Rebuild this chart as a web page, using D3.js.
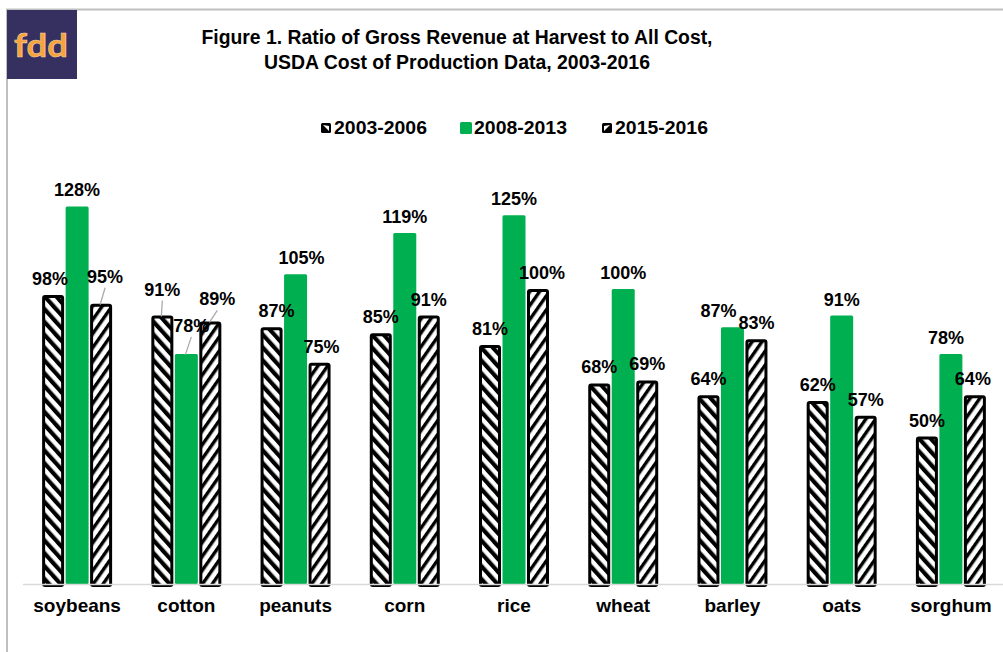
<!DOCTYPE html>
<html><head><meta charset="utf-8">
<script src="https://cdn.jsdelivr.net/npm/d3@7"></script>
<style>
html,body{margin:0;padding:0;background:#fff;}
svg{display:block;font-family:"Liberation Sans",Arial,sans-serif;}
</style></head>
<body>
<svg id="chart" width="1003" height="652"></svg>
<script>
const categories = ["soybeans","cotton","peanuts","corn","rice","wheat","barley","oats","sorghum"];
const seriesNames = ["2003-2006","2008-2013","2015-2016"];
const values2003_2006 = [98,91,87,85,81,68,64,62,50];
const values2008_2013 = [128,78,105,119,125,100,87,91,78];
const values2015_2016 = [95,89,75,91,100,69,83,57,64];
const seriesValues = [values2003_2006, values2008_2013, values2015_2016];
const titleLines = ["Figure 1. Ratio of Gross Revenue at Harvest to All Cost,","USDA Cost of Production Data, 2003-2016"];

// label placement tweaks (layout only)
const labelAdjust = {
  "soybeans|0":{dx:-3,dy:0},
  "soybeans|2":{dx:4,dy:-11,leader:true},
  "cotton|0":{dx:0,dy:-10,leader:true},
  "cotton|1":{dx:5,dy:-12,leader:true},
  "cotton|2":{dx:7,dy:-6,leader:true},
  "peanuts|0":{dx:5,dy:0},
  "peanuts|1":{dx:6,dy:0},
  "peanuts|2":{dx:2,dy:0},
  "rice|2":{dx:4,dy:0},
  "barley|1":{dx:-14,dy:0},
  "sorghum|1":{dx:-5,dy:0},
  "sorghum|2":{dx:-2,dy:0}
};

const svg = d3.select("#chart");
const green = "#00B050";

// patterns
const defs = svg.append("defs");
function hatch(id, angle, size, stripe){
  const p = defs.append("pattern").attr("id", id).attr("patternUnits","userSpaceOnUse")
    .attr("width", size).attr("height", size).attr("patternTransform", `rotate(${angle})`);
  p.append("rect").attr("width",size).attr("height",size).attr("fill","#fff");
  p.append("rect").attr("x",0).attr("y",0).attr("width",stripe).attr("height",size).attr("fill","#000");
}
hatch("hatchA", -42, 8.6, 4.2);
hatch("hatchB", 35, 8, 3.4);
const fills = ["url(#hatchA)", green, "url(#hatchB)"];

// frame
svg.append("rect").attr("x",7).attr("y",9.5).attr("width",1000).attr("height",660)
  .attr("fill","#fff").attr("stroke","#BFBFBF").attr("stroke-width",2);

// logo
svg.append("rect").attr("x",7).attr("y",10).attr("width",70).attr("height",69).attr("fill","#35305F");
svg.append("text").attr("x",14).attr("y",57).attr("textLength",54).attr("lengthAdjust","spacingAndGlyphs")
  .attr("font-family","Lato, 'DejaVu Sans', sans-serif").attr("font-weight","bold").attr("font-size",33)
  .attr("fill","#F7A23A").attr("stroke","#f4d2a8").attr("stroke-width",0.6).text("fdd");

// title
const titleLens = [511, 386];
titleLines.forEach((t,i)=>{
  svg.append("text").attr("x",457).attr("y",44+i*24.5).attr("text-anchor","middle")
    .attr("font-weight","bold").attr("font-size",20).attr("fill","#000")
    .attr("textLength", titleLens[i]).attr("lengthAdjust","spacingAndGlyphs").text(t);
});

// scales
const baseY = 584;
const y = d3.scaleLinear().domain([0,140]).range([baseY, baseY - 140*2.95]);
const pIn = 1 - 72/109.25;
const x0 = d3.scaleBand().domain(categories).range([22.5, 1005.5]).paddingInner(pIn).paddingOuter(pIn/2);
const x1 = d3.scaleBand().domain(d3.range(3)).range([0, x0.bandwidth()]);

// legend
const legendX = [320, 460, 601];
seriesNames.forEach((s,i)=>{
  const g = svg.append("g").attr("transform",`translate(${legendX[i]},122)`);
  if(i===1){
    g.append("rect").attr("width",12).attr("height",12).attr("rx",1.5).attr("fill",green);
  } else {
    g.append("rect").attr("x",1).attr("y",1).attr("width",10).attr("height",10).attr("rx",1.5)
      .attr("fill","#000");
    g.append("path").attr("d", i===0 ? "M3,3 L9,9 L9,4 Z" : "M3,9 L9,3 L3,4 Z").attr("fill","#fff");
  }
  g.append("text").attr("x",14).attr("y",12).attr("font-weight","bold").attr("font-size",19)
    .attr("fill","#000").attr("textLength",93).attr("lengthAdjust","spacingAndGlyphs").text(s);
});

// bars
const groups = svg.append("g").selectAll("g").data(categories).join("g")
  .attr("transform", d=>`translate(${x0(d)},0)`);

groups.each(function(cat, ci){
  const g = d3.select(this);
  seriesValues.forEach((vals, si)=>{
    const v = vals[ci];
    const bx = x1(si);
    if(si===1){
      g.append("rect").attr("x", bx+0.5).attr("y", y(v)).attr("width",23).attr("height", baseY - y(v))
        .attr("rx",1.5).attr("fill", green);
    } else {
      g.append("rect").attr("x", bx+2.5).attr("y", y(v)+1.5).attr("width",19).attr("height", baseY - y(v))
        .attr("rx",1.5).attr("fill", fills[si]).attr("stroke","#000").attr("stroke-width",3);
    }
  });
});

// axis line
svg.append("line").attr("x1",23).attr("x2",1003).attr("y1",baseY+0.5).attr("y2",baseY+0.5)
  .attr("stroke","#D9D9D9").attr("stroke-width",1.5);

// category labels
const xAxis = d3.axisBottom(x0).tickSize(0).tickPadding(0);
const ax = svg.append("g").attr("transform",`translate(0,${baseY})`).call(xAxis);
ax.select(".domain").remove();
ax.selectAll("text").attr("y",28).attr("dy",0).attr("font-size",19).attr("font-weight","bold")
  .attr("fill","#000").attr("font-family","'Liberation Sans',Arial,sans-serif");

// value labels
const lbl = svg.append("g");
categories.forEach((cat, ci)=>{
  seriesValues.forEach((vals, si)=>{
    const v = vals[ci];
    const cx = x0(cat) + x1(si) + 12;
    const adj = labelAdjust[cat+"|"+si] || {dx:0,dy:0};
    const tx = cx + adj.dx, ty = y(v) - 10 + adj.dy;
    if(adj.leader){
      lbl.append("line").attr("x1", tx).attr("y1", ty+5).attr("x2", cx - 1).attr("y2", y(v)+1)
        .attr("stroke","#A6A6A6").attr("stroke-width",1.2);
    }
    lbl.append("text").attr("x", tx).attr("y", ty).attr("text-anchor","middle")
      .attr("font-weight","bold").attr("font-size",18).attr("fill","#000")
      .text(v + "%");
  });
});
</script>
</body></html>
